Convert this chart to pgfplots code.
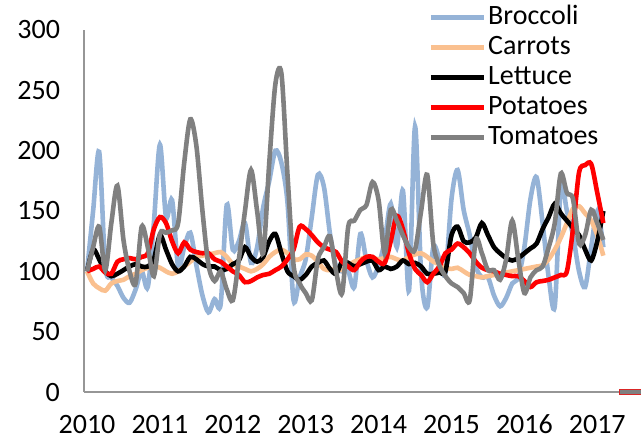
\documentclass[border=0pt]{standalone}
\usepackage{pgfplots}
\usepackage{pgfplotstable}
\pgfplotsset{compat=1.18}
\usepackage{fontspec}
\setmainfont{Carlito}

\definecolor{broc}{RGB}{149,179,215}
\definecolor{carr}{RGB}{250,192,143}
\definecolor{axgray}{RGB}{150,150,150}

% monthly index from Jan 2010
\pgfplotstableread{
m  broc carr lett pota toma
0  100 100 100 100 100
1  150 90  118 102 120
2  199 86  110 104 137
3  104 84  100 99  101
4  95  90  96  98  140
5  88  92  98  108 171
6  78  93  101 110 126
7  74  96  104 111 100
8  85  98  106 110 90
9  100 101 104 112 137
10 87  103 104 115 120
11 140 104 110 135 96
12 205 103 130 145 131
13 145 100 118 140 132
14 159 98  106 125 134
15 104 100 100 115 140
16 120 104 104 124 190
17 132 108 112 118 226
18 105 112 110 116 204
19 80  113 106 115 150
20 66  114 104 115 105
21 77  115 104 110 92
22 73  116 101 108 100
23 155 112 102 104 85
24 118 106 106 100 76
25 125 104 109 97  110
26 140 102 120 91  150
27 107 100 112 92  184
28 120 102 108 95  150
29 153 106 112 97  115
30 175 112 125 98  190
31 200 116 131 101 255
32 190 118 115 104 264
33 157 115 100 110 180
34 76  110 96  118 105
35 95  110 93  137 90
36 110 114 97  135 82
37 145 113 104 130 76
38 180 108 107 124 110
39 170 102 109 120 120
40 131 101 102 118 129
41 104 102 98  116 100
42 100 101 108 108 82
43 100 105 107 104 137
44 87  108 104 101 142
45 131 110 106 108 151
46 109 112 108 112 155
47 95  111 109 112 174
48 105 110 101 108 159
49 125 111 104 107 115
50 156 112 102 125 151
51 120 110 104 146 142
52 167 109 109 135 130
53 84  112 106 115 120
54 220 114 107 102 118
55 98  115 104 97  150
56 70  112 98  91  180
57 120 108 98  98  123
58 110 106 99  104 105
59 98  103 100 115 96
60 160 102 130 118 90
61 184 103 137 123 87
62 151 100 125 120 82
63 130 97  124 115 76
64 104 96  128 108 126
65 95  95  140 103 115
66 95  96  130 101 101
67 80  97  120 100 101
68 71  98  115 98  93
69 78  99  111 97  110
70 90  100 109 96  142
71 95  101 111 96  110
72 120 102 115 92  82
73 160 103 119 87  95
74 178 104 123 91  101
75 140 105 135 92  104
76 95  110 145 93  120
77 71  118 156 95  140
78 170 128 148 97  181
79 150 140 142 100 165
80 130 152 136 135 160
81 100 154 130 182 123
82 87  148 118 188 130
83 120 142 109 189 151
84 150 130 125 165 140
85 120 113 150 140 126
}\veg

\begin{document}
\begin{tikzpicture}
\useasboundingbox (0,0) rectangle (320.5pt,220.5pt);
\begin{axis}[
    at={(42pt,24.5pt)}, anchor=south west,
    scale only axis,
    width=278.5pt, height=181pt,
    xmin=-0.5, xmax=91.2,
    ymin=0, ymax=300,
    axis x line*=bottom, axis y line*=left,
    axis line style={axgray, line width=0.8pt, -},
    xtick={0,12,...,84},
    xticklabels={2010,2011,2012,2013,2014,2015,2016,2017},
    ytick={0,50,...,300},
    major tick length=0pt,
    tick label style={font=\fontsize{14}{16}\selectfont, /pgf/number format/assume math mode=true},
    yticklabel style={xshift=-8.5pt},
    xticklabel style={yshift=-8pt},
    every axis plot/.append style={line width=2.3pt, smooth, no markers},
    legend style={draw=none, fill=none, inner sep=0pt,
        at={(0.618,1.077)}, anchor=north west,
        font=\fontsize{14}{16}\selectfont,
        nodes={inner sep=1pt, text height=10pt, text depth=3pt},
        row sep=0pt},
    legend cell align=left,
    legend image code/.code={\draw[#1] (0pt,0pt) -- (26.5pt,0pt);},
    clip=false,
]
\addplot[broc] table[x=m, y=broc] {\veg};
\addplot[carr] table[x=m, y=carr] {\veg};
\addplot[black] table[x=m, y=lett] {\veg};
\addplot[red] table[x=m, y=pota] {\veg};
\addplot[gray] table[x=m, y=toma] {\veg};
\addplot[red!70!gray, line width=3pt, forget plot, sharp plot] coordinates {(87.6,0) (91.2,0)};
\addplot[gray, line width=2.2pt, forget plot, sharp plot] coordinates {(87.7,0) (91.2,0)};
\legend{Broccoli, Carrots, Lettuce, Potatoes, Tomatoes}
\end{axis}
\end{tikzpicture}
\end{document}
